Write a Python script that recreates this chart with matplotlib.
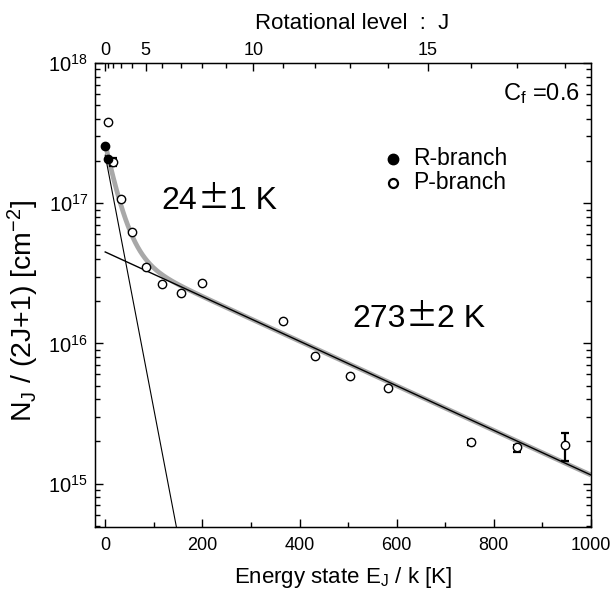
import numpy as np
import matplotlib
matplotlib.use("Agg")
import matplotlib.pyplot as plt
from matplotlib.ticker import FixedLocator, NullFormatter, LogLocator
from matplotlib.offsetbox import TextArea, HPacker, AnnotationBbox

plt.rcParams['font.family'] = ['Liberation Sans', 'DejaVu Sans']
plt.rcParams['mathtext.fontset'] = 'custom'
plt.rcParams['mathtext.rm'] = 'Liberation Sans'
plt.rcParams['mathtext.it'] = 'Liberation Sans:italic'
plt.rcParams['mathtext.bf'] = 'Liberation Sans:bold'

# ---------------- data ----------------
r_energy = [0.0, 5.5]
r_column = [2.55e17, 2.07e17]

p_energy = [5.5, 16.6, 33.2, 55.4, 83.0, 116.0, 155.0, 199.0, 366.0, 432.0, 504.0, 582.0, 753.0, 848.0, 947.0]
p_column = [3.81e17, 1.97e17, 1.08e17, 6.24e16, 3.51e16, 2.64e16, 2.30e16, 2.71e16,
            1.44e16, 8.07e15, 5.83e15, 4.82e15, 1.97e15, 1.82e15, 1.87e15]

err_energy = [16.6, 753.0, 848.0, 947.0]
err_column = [1.97e17, 1.97e15, 1.82e15, 1.87e15]
err_low = [0.12e17, 0.08e15, 0.14e15, 0.43e15]
err_high = [0.12e17, 0.08e15, 0.08e15, 0.43e15]

cold_n0, cold_T = 2.2e17, 24.0
warm_n0, warm_T = 4.49e16, 273.0

rot_const = 2.77          # K, E_J = B J (J+1)
j_major = [0, 5, 10, 15]
j_minor = list(range(0, 19))

# ---------------- figure ----------------
fig = plt.figure(figsize=(6.13, 6.03), dpi=100)
ax = fig.add_axes([0.155, 0.126, 0.809, 0.7695])

e_fit = np.linspace(0, 1000, 600)
cold = cold_n0 * np.exp(-e_fit / cold_T)
warm = warm_n0 * np.exp(-e_fit / warm_T)
ax.plot(e_fit, cold + warm, color='#a8a8a8', lw=3.4, zorder=2, solid_capstyle='butt')
ax.plot(e_fit, cold, color='black', lw=0.8, zorder=3)
ax.plot(e_fit, warm, color='black', lw=1.0, zorder=3)

ax.errorbar(err_energy, err_column, yerr=[err_low, err_high], fmt='none',
            ecolor='black', elinewidth=1.6, capsize=3.0, capthick=1.6, zorder=4)
ax.plot(p_energy, p_column, 'o', ms=6.0, mfc='white', mec='black', mew=1.0, zorder=5)
ax.plot(r_energy, r_column, 'o', ms=6.0, mfc='black', mec='black', mew=1.0, zorder=6)

ax.set_yscale('log')
ax.set_xlim(-21, 1000)
ax.set_ylim(4.9e14, 1e18)

ax.set_xticks([0, 200, 400, 600, 800, 1000])
ax.set_xticks([100, 300, 500, 700, 900], minor=True)
ax.yaxis.set_major_locator(LogLocator(base=10, numticks=10))
ax.yaxis.set_minor_locator(LogLocator(base=10, subs=np.arange(2, 10), numticks=20))
ax.yaxis.set_minor_formatter(NullFormatter())

ax.tick_params(which='both', direction='in', top=False, right=True)
ax.tick_params(axis='x', pad=7, labelsize=13)
ax.tick_params(axis='y', pad=5, labelsize=14.5)
ax.tick_params(which='major', length=6, width=1)
ax.tick_params(which='minor', length=3.3, width=1)
for s in ax.spines.values():
    s.set_linewidth(1.0)

ax.set_xlabel('Energy state E$_\\mathregular{J}$ / k [K]', fontsize=16, labelpad=8)
ax.set_ylabel('N$_\\mathregular{J}$ / (2J+1) [cm$^\\mathregular{-2}$]', fontsize=20.5, labelpad=5)
ax.yaxis.label.set_y(0.465)

# top axis: rotational level
ax2 = ax.twiny()
ax2.set_xlim(ax.get_xlim())
ax2.xaxis.set_major_locator(FixedLocator([rot_const * j * (j + 1) for j in j_major]))
ax2.xaxis.set_minor_locator(FixedLocator([rot_const * j * (j + 1) for j in j_minor]))
ax2.set_xticklabels([str(j) for j in j_major])
ax2.xaxis.set_minor_formatter(NullFormatter())
ax2.tick_params(which='both', direction='in', labelsize=13, pad=3)
ax2.tick_params(which='major', length=6, width=1)
ax2.tick_params(which='minor', length=3.3, width=1)
ax2.set_xlabel('Rotational level  :  J', fontsize=16, labelpad=9)
ax2.xaxis.label.set_x(0.518)


def pm_label(x, y, left, right):
    props = dict(size=23, family=['Liberation Sans'])
    parts = [TextArea(left, textprops=props),
             TextArea('\u00b1', textprops=dict(size=23, family=['Noto Sans CJK JP'])),
             TextArea(right, textprops=props)]
    box = HPacker(children=parts, align='baseline', pad=0, sep=0)
    ab = AnnotationBbox(box, (x, y), xycoords='data', frameon=False,
                        box_alignment=(0, 0.5), pad=0)
    ax.add_artist(ab)


pm_label(116, 1.05e17, '24', '1 K')
pm_label(508, 1.53e16, '273', '2 K')
ax.text(978, 6.1e17, 'C$_\\mathregular{f}$ =0.6', fontsize=17, ha='right', va='center')

# legend
ax.plot([592], [2.08e17], 'o', ms=7.5, mfc='black', mec='black')
ax.plot([592], [1.40e17], 'o', ms=6.5, mfc='white', mec='black', mew=1.6)
ax.text(633, 2.08e17, 'R-branch', fontsize=16.5, va='center')
ax.text(633, 1.40e17, 'P-branch', fontsize=16.5, va='center')

fig.savefig('out.png', dpi=100)
